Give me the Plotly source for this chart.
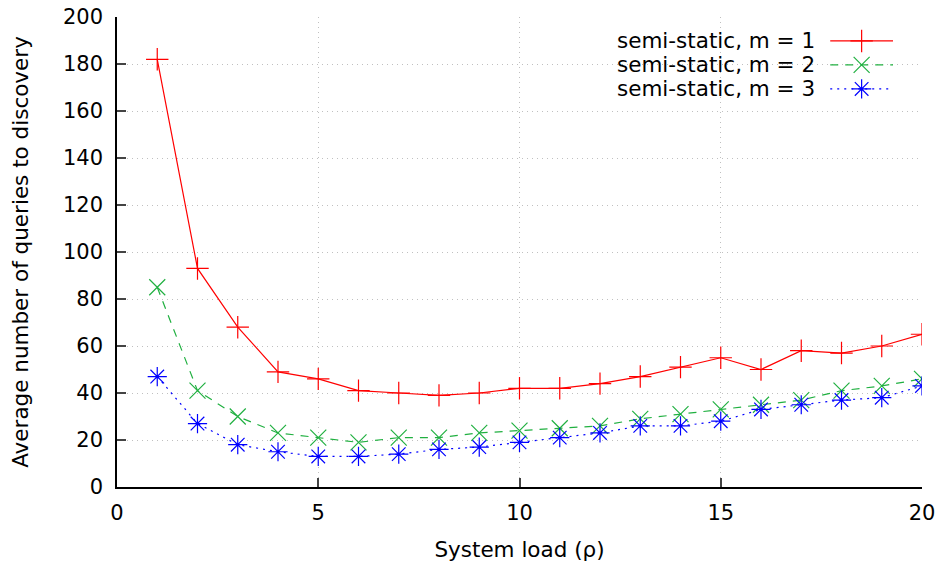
import plotly.graph_objects as go

load = list(range(1, 21))
m1 = [182, 93, 68, 49, 46, 41, 40, 39, 40, 42, 42, 44, 47, 51, 55, 50, 58, 57, 60, 65]
m2 = [85, 41, 30, 23, 21, 19, 21, 21, 23, 24, 25, 26, 29, 31, 33, 35, 37, 41, 43, 46]
m3 = [47, 27, 18, 15, 13, 13, 14, 16, 17, 19, 21, 23, 26, 26, 28, 33, 35, 37, 38, 43]
names = ["semi-static, m = 1", "semi-static, m = 2", "semi-static, m = 3"]
x_ticks = [0, 5, 10, 15, 20]
y_ticks = list(range(0, 201, 20))

colors = ["#ff0000", "#20b040", "#0000ff"]
symbols = ["cross-thin-open", "x-thin-open", "asterisk-open"]
dashes = ["solid", "8px,7px", "2px,5px"]
FONT = "DejaVu Sans"
FS = 21
FS_T = 21.5

fig = go.Figure()
for ys, name, c, s, d in zip([m1, m2, m3], names, colors, symbols, dashes):
    fig.add_trace(go.Scatter(
        x=load, y=ys, name=name, mode="lines+markers",
        line=dict(color=c, width=1.2, dash=d),
        marker=dict(symbol=s, size=16, color=c, line=dict(color=c, width=1.2)),
        showlegend=False,
    ))

# custom legend (gnuplot style: text on left, sample on right)
leg_y = [0.949, 0.898, 0.847]
for name, c, s, d, ly in zip(names, colors, symbols, dashes, leg_y):
    fig.add_trace(go.Scatter(
        x=[0.886, 0.964], y=[ly, ly], xaxis="x2", yaxis="y2", mode="lines",
        line=dict(color=c, width=1.2, dash=d), showlegend=False, hoverinfo="skip"))
    fig.add_trace(go.Scatter(
        x=[0.925], y=[ly], xaxis="x2", yaxis="y2", mode="markers",
        marker=dict(symbol=s, size=16, color=c, line=dict(color=c, width=1.2)),
        showlegend=False, hoverinfo="skip"))
    fig.add_annotation(x=0.869, y=ly, xref="x2", yref="y2", text=name,
                       showarrow=False, xanchor="right", yanchor="middle",
                       font=dict(family=FONT, size=FS_T, color="black"))

axis_common = dict(
    showline=True, linecolor="black", linewidth=1.5, mirror=False,
    ticks="inside", ticklen=9, tickcolor="#444", tickwidth=1.5,
    showgrid=True, gridcolor="#c0c0c0", griddash="1px,4px", gridwidth=1.2,
    zeroline=False, tickfont=dict(family=FONT, size=FS, color="black"),
    automargin=False,
)
fig.update_layout(
    width=941, height=564,
    margin=dict(l=117, r=19, t=17, b=77),
    plot_bgcolor="white", paper_bgcolor="white",
    font=dict(family=FONT, size=FS, color="black"),
    xaxis=dict(range=[0, 20], tickvals=x_ticks, ticklabelstandoff=6,
               title=dict(text="System load (ρ)", font=dict(family=FONT, size=FS_T), standoff=18),
               **axis_common),
    yaxis=dict(range=[0, 200], tickvals=y_ticks, ticklabelstandoff=8,
               title=dict(text="Average number of queries to discovery", font=dict(family=FONT, size=FS_T), standoff=28),
               **axis_common),
    xaxis2=dict(range=[0, 1], overlaying="x", visible=False, fixedrange=True),
    yaxis2=dict(range=[0, 1], overlaying="y", visible=False, fixedrange=True),
)
fig.write_html("out.html")
